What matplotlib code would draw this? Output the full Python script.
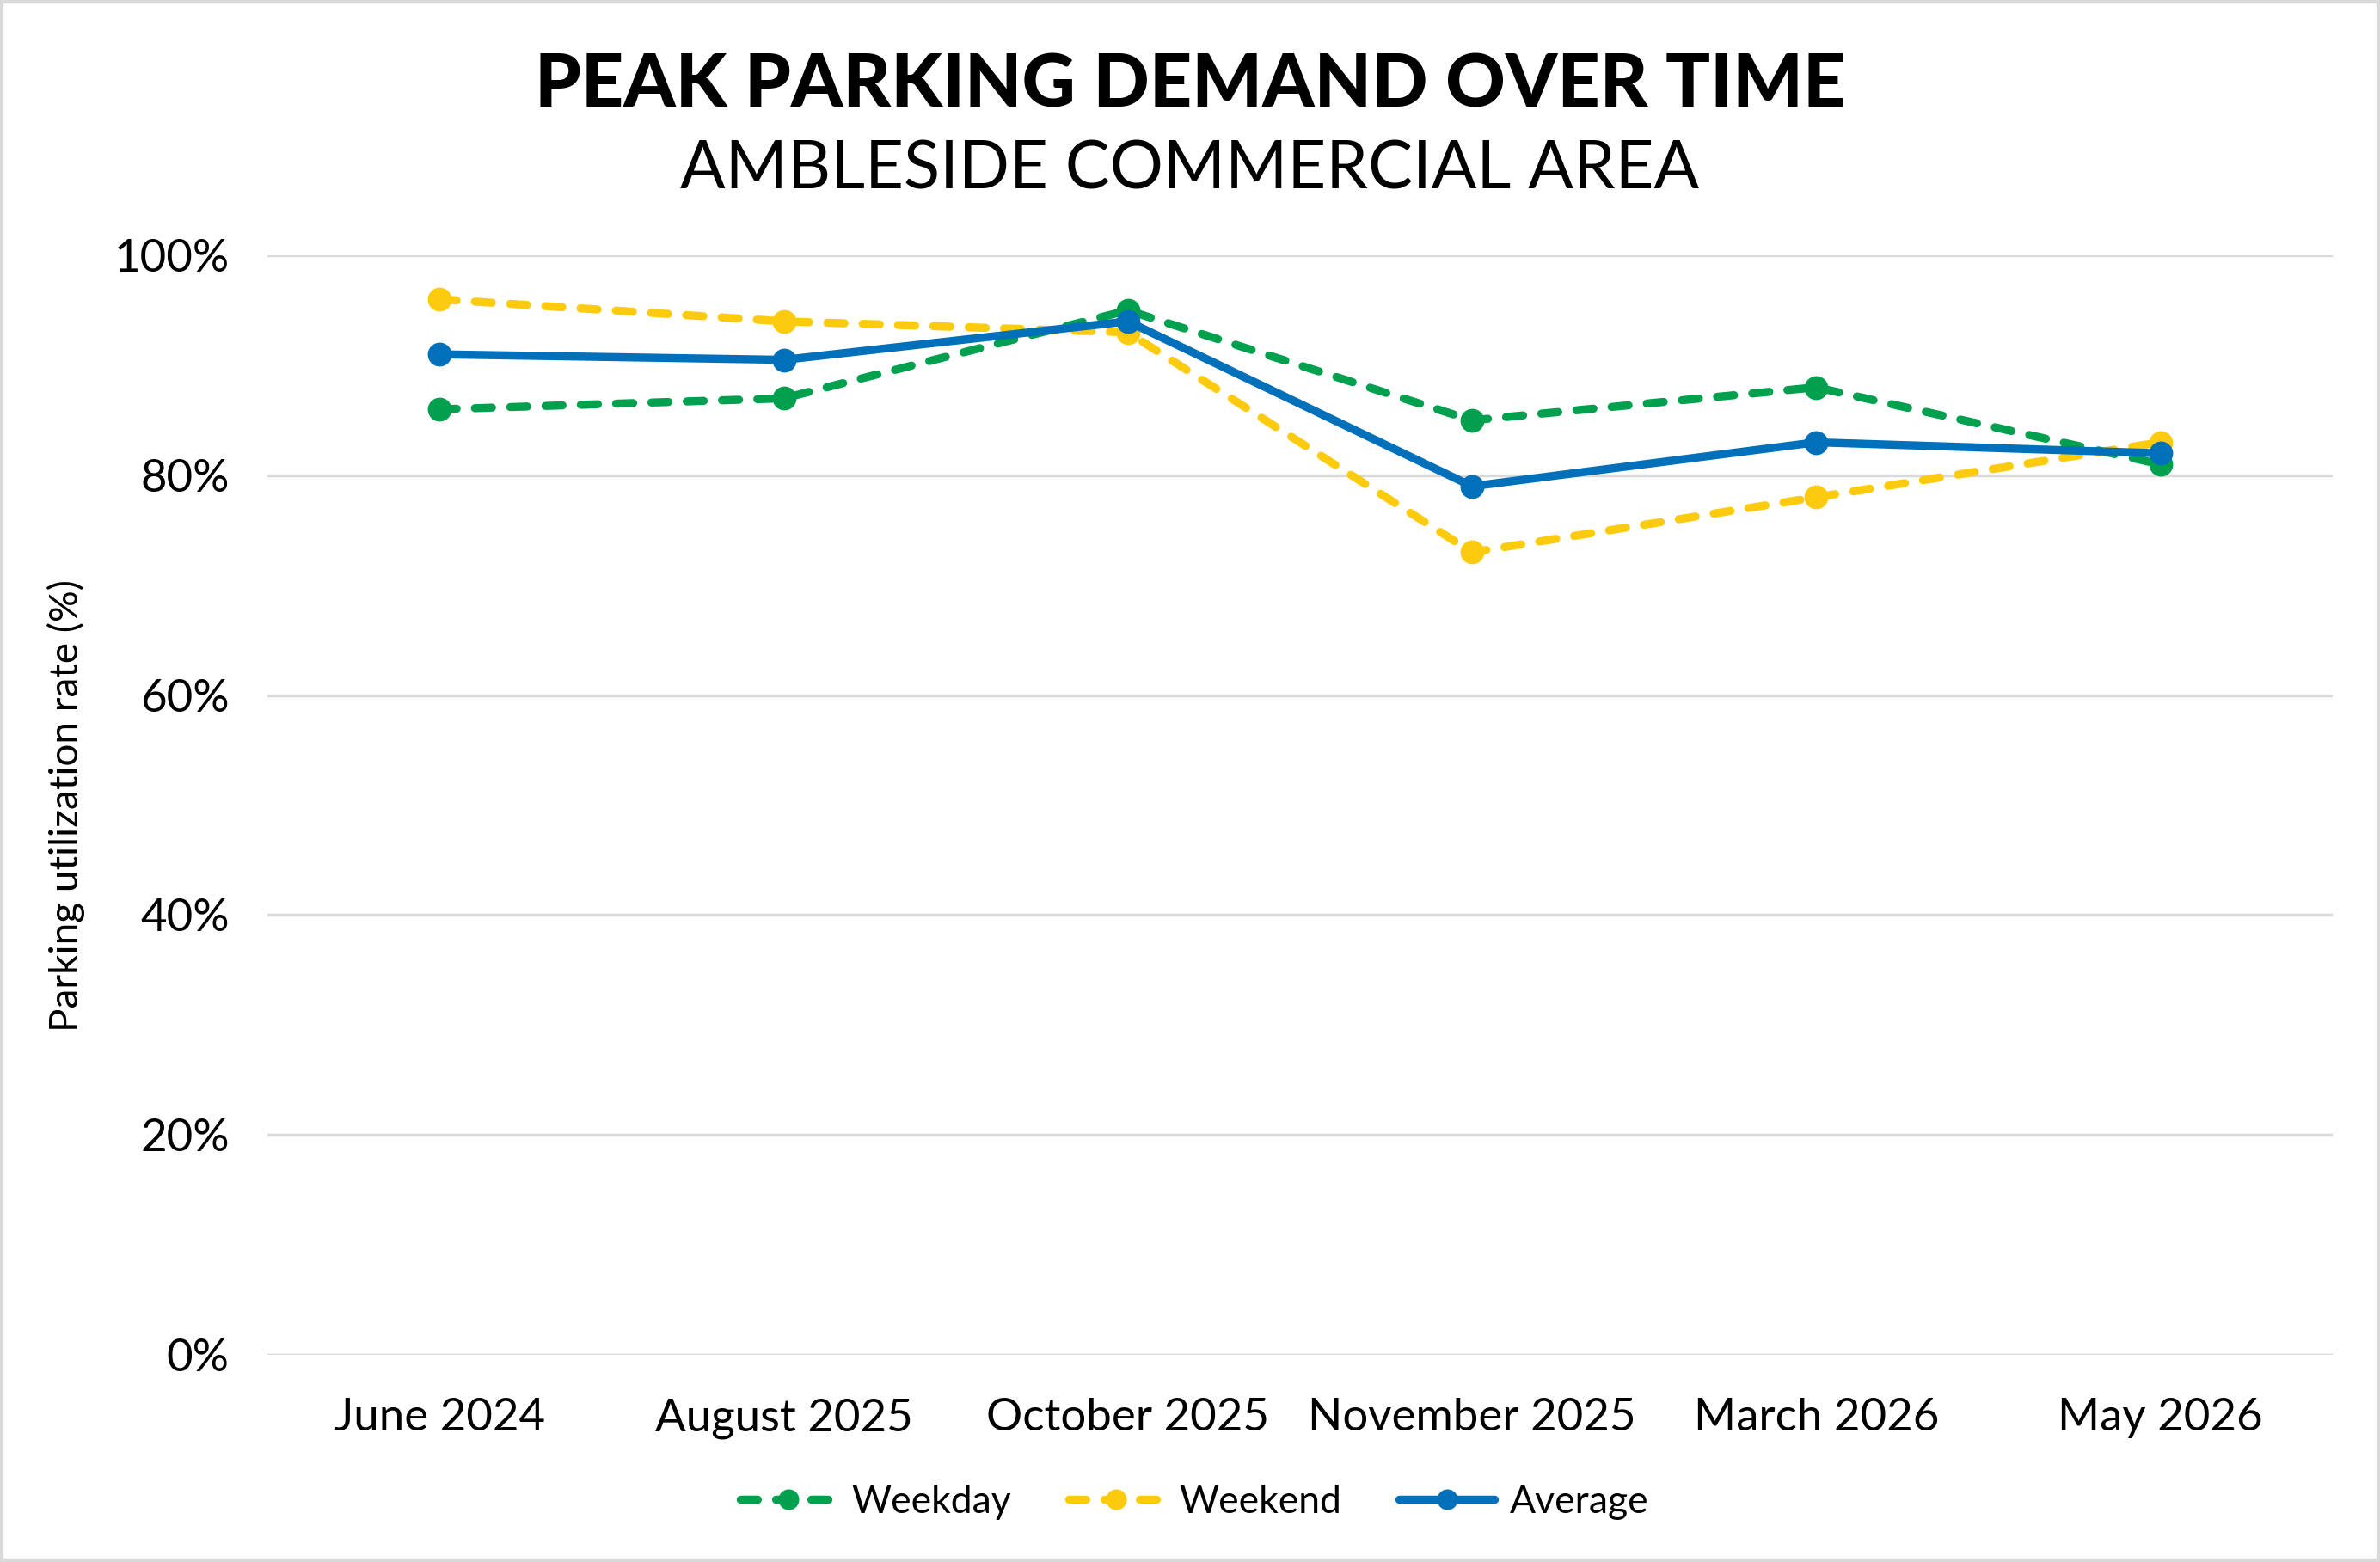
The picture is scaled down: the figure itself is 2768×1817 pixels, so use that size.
import matplotlib
matplotlib.use("Agg")
import matplotlib.pyplot as plt
from matplotlib.patches import Rectangle
from matplotlib.ticker import FuncFormatter

categories = ["June 2024", "August 2025", "October 2025", "November 2025", "March 2026", "May 2026"]
weekday = [86, 87, 95, 85, 88, 81]
weekend = [96, 94, 93, 73, 78, 83]
average = [91, 90.5, 94, 79, 83, 82]
yticks = [0, 20, 40, 60, 80, 100]

GREEN = "#00A04F"
YELLOW = "#FDCB0E"
BLUE = "#0070BA"

plt.rcParams['font.family'] = ['Lato', 'DejaVu Sans']

fig = plt.figure(figsize=(13.84, 9.085), dpi=200)
ax = fig.add_axes([0.1124, 0.1326, 0.8676, 0.7039])

x = list(range(len(categories)))
lw = 3.4
ms = 9
dash = (0, (2.1, 2.25))
ax.plot(x, weekday, color=GREEN, lw=lw, ls=dash, dash_capstyle='round',
        marker='o', ms=ms, label="Weekday", clip_on=False, zorder=3)
ax.plot(x, weekend, color=YELLOW, lw=lw, ls=dash, dash_capstyle='round',
        marker='o', ms=ms, label="Weekend", clip_on=False, zorder=3)
ax.plot(x, average, color=BLUE, lw=lw, solid_capstyle='round',
        marker='o', ms=ms, label="Average", clip_on=False, zorder=4)

ax.set_xlim(-0.5, len(categories) - 0.5)
ax.set_ylim(0, 100)
ax.set_yticks(yticks)
ax.yaxis.set_major_formatter(FuncFormatter(lambda v, p: f"{int(v)}%"))
ax.set_xticks(x)
ax.set_xticklabels(categories)
ax.tick_params(axis='both', length=0, labelsize=19, colors='black')
ax.tick_params(axis='y', pad=16)
ax.tick_params(axis='x', pad=18)
ax.grid(axis='y', color='#D9D9D9', lw=1.2)
ax.set_axisbelow(True)
for s in ax.spines.values():
    s.set_visible(False)
ax.set_ylabel("Parking utilization rate (%)", fontsize=16.5, labelpad=12)

fig.text(0.5, 0.945, "PEAK PARKING DEMAND OVER TIME", ha='center', va='center',
         fontsize=31, fontweight='black')
fig.text(0.5, 0.891, "AMBLESIDE COMMERCIAL AREA", ha='center', va='center',
         fontsize=28)

leg = fig.legend(loc='center', bbox_to_anchor=(0.502, 0.0385), ncol=3, frameon=False,
                 fontsize=16, handlelength=2.5, columnspacing=1.5, handletextpad=0.4,
                 markerscale=0.85)

fig.patches.append(Rectangle((0, 0), 1, 1, transform=fig.transFigure, fill=False,
                             edgecolor='#D9D9D9', lw=3, zorder=10))

fig.savefig("out.png", dpi=200)
